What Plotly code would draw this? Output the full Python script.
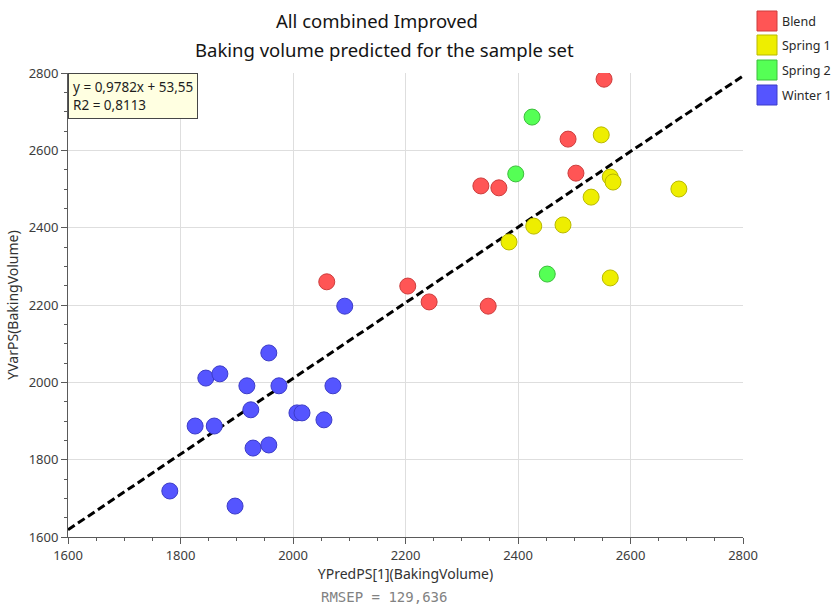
import plotly.graph_objects as go

# ---- data ----
blend_x = [2553, 2489, 2503, 2334, 2366, 2060, 2204, 2242, 2347]
blend_y = [2784, 2629, 2541, 2508, 2503, 2260, 2249, 2208, 2197]

spring1_x = [2548, 2564, 2569, 2686, 2530, 2480, 2428, 2384, 2564]
spring1_y = [2640, 2531, 2518, 2500, 2479, 2407, 2404, 2363, 2270]

spring2_x = [2425, 2396, 2452]
spring2_y = [2686, 2539, 2280]

winter1_x = [2092, 1957, 1845, 1870, 1918, 1975, 2071, 1925, 2007, 2016, 2055,
             1826, 1860, 1929, 1957, 1781, 1897]
winter1_y = [2197, 2076, 2011, 2022, 1991, 1991, 1991, 1929, 1921, 1921, 1903,
             1887, 1887, 1830, 1838, 1719, 1680]

slope = 0.9782
intercept = 53.55
r2 = 0.8113
rmsep = "129,636"
axis_range = [1600, 2800]

series = [
    ("Blend", blend_x, blend_y, "rgb(255,85,85)", "rgb(205,60,60)"),
    ("Spring 1", spring1_x, spring1_y, "rgb(238,238,0)", "rgb(185,185,0)"),
    ("Spring 2", spring2_x, spring2_y, "rgb(85,255,85)", "rgb(60,190,60)"),
    ("Winter 1", winter1_x, winter1_y, "rgb(85,85,255)", "rgb(60,60,200)"),
]

font_family = "Noto Sans, Open Sans, sans-serif"

# plot-area geometry (pixels) used to place paper-referenced decorations
W, H = 834, 607
L, R, T, B = 68, 91, 73, 70
PW, PH = W - L - R, H - T - B


def px_x(p):
    return (p - L) / PW


def px_y(p):
    return (H - B - p) / PH


fig = go.Figure()

line_x = axis_range
line_y = [slope * v + intercept for v in line_x]
fig.add_trace(go.Scatter(
    x=line_x, y=line_y, mode="lines",
    line=dict(color="black", width=3, dash="8px,4px"),
    showlegend=False, hoverinfo="skip"))

for name, xs, ys, fill, edge in series:
    fig.add_trace(go.Scatter(
        x=xs, y=ys, mode="markers", name=name, showlegend=False,
        marker=dict(size=16, color=fill, line=dict(color=edge, width=1),
                    symbol="circle"),
    ))

axis_common = dict(
    range=axis_range, dtick=200, tick0=1600,
    showgrid=True, gridcolor="rgb(222,222,222)", gridwidth=1,
    zeroline=False, showline=True, linecolor="rgb(90,90,90)", linewidth=1,
    ticks="outside", ticklen=6, tickcolor="rgb(90,90,90)",
    tickfont=dict(family=font_family, size=13, color="rgb(60,60,60)"),
    minor=dict(dtick=50, ticks="outside", ticklen=3, tickcolor="rgb(90,90,90)",
               showgrid=False),
)

fig.update_layout(
    width=W, height=H,
    margin=dict(l=L, r=R, t=T, b=B, autoexpand=False),
    paper_bgcolor="white", plot_bgcolor="white",
    font=dict(family=font_family, color="rgb(40,40,40)"),
    xaxis=dict(**axis_common,
               title=dict(text="YPredPS[1](BakingVolume)", standoff=5,
                          font=dict(family=font_family, size=14, color="rgb(50,50,50)"))),
    yaxis=dict(**axis_common,
               title=dict(text="YVarPS(BakingVolume)", standoff=6,
                          font=dict(family=font_family, size=14, color="rgb(50,50,50)"))),
    showlegend=False,
)

# legend (coloured squares with labels)
legend_centers = [21, 45, 70, 95]
for (name, xs, ys, fill, edge), cy in zip(series, legend_centers):
    fig.add_shape(type="rect", xref="paper", yref="paper",
                  x0=px_x(757), x1=px_x(777), y0=px_y(cy + 10), y1=px_y(cy - 10),
                  fillcolor=fill, line=dict(color=edge, width=1))
    fig.add_annotation(text=name, xref="paper", yref="paper",
                       x=px_x(780), y=px_y(cy), xanchor="left", yanchor="middle",
                       showarrow=False,
                       font=dict(family=font_family, size=12.5, color="rgb(40,40,40)"))

fig.add_annotation(
    text="All combined Improved", xref="paper", yref="paper",
    x=px_x(377), y=px_y(20), xanchor="center", yanchor="middle",
    showarrow=False, font=dict(family=font_family, size=18.5, color="rgb(20,20,20)"))
fig.add_annotation(
    text="Baking volume predicted for the sample set", xref="paper", yref="paper",
    x=px_x(384), y=px_y(49), xanchor="center", yanchor="middle",
    showarrow=False, font=dict(family=font_family, size=18.5, color="rgb(20,20,20)"))

fig.add_annotation(
    text=f"y = {str(slope).replace('.', ',')}x + {str(intercept).replace('.', ',')}<br>R2 = {str(r2).replace('.', ',')}",
    xref="paper", yref="paper", x=0, y=1, xanchor="left", yanchor="top",
    align="left", showarrow=False,
    bgcolor="rgb(255,255,225)", bordercolor="rgb(70,70,70)", borderwidth=1, borderpad=4,
    font=dict(family=font_family, size=13.5, color="rgb(30,30,30)"))

fig.add_annotation(
    text=f"RMSEP = {rmsep}", xref="paper", yref="paper",
    x=px_x(384), y=px_y(597), xanchor="center", yanchor="middle",
    showarrow=False, font=dict(family="DejaVu Sans Mono, monospace", size=14, color="rgb(130,130,130)"))

fig.write_html("out.html")
